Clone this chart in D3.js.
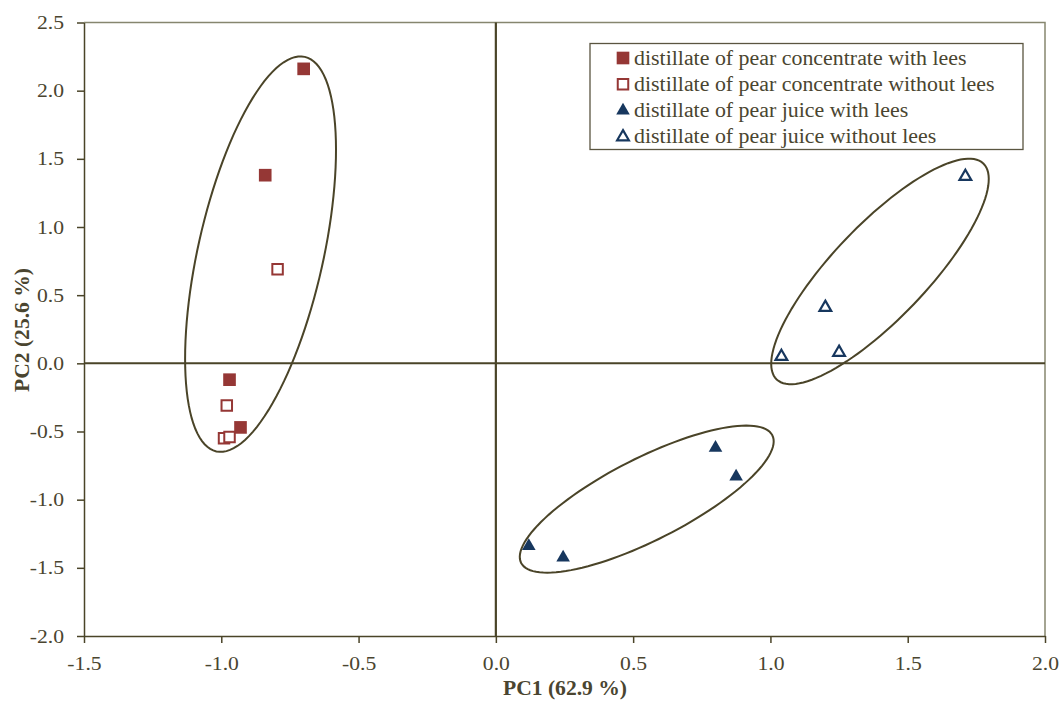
<!DOCTYPE html>
<html>
<head>
<meta charset="utf-8">
<script src="https://cdn.jsdelivr.net/npm/d3@7"></script>
<style>
  html, body { margin: 0; padding: 0; background: #fff; }
  svg { display: block; }
  text { font-family: "Liberation Serif", "Times New Roman", serif; fill: #4a4530; }
</style>
</head>
<body>
<svg id="chart" width="1061" height="702"></svg>
<script>
// ---- data ----
const xTicks = [-1.5, -1.0, -0.5, 0.0, 0.5, 1.0, 1.5, 2.0];
const yTicks = [-2.0, -1.5, -1.0, -0.5, 0.0, 0.5, 1.0, 1.5, 2.0, 2.5];
const seriesNames = [
  "distillate of pear concentrate with lees",
  "distillate of pear concentrate without lees",
  "distillate of pear juice with lees",
  "distillate of pear juice without lees"
];
const concWithLees = [[-0.70, 2.16], [-0.84, 1.38], [-0.97, -0.12], [-0.93, -0.47]];
const concWithoutLees = [[-0.795, 0.69], [-0.98, -0.31], [-0.99, -0.55], [-0.97, -0.54]];
const juiceWithLees = [[0.80, -0.62], [0.875, -0.83], [0.12, -1.34], [0.245, -1.425]];
const juiceWithoutLees = [[1.71, 1.37], [1.20, 0.41], [1.04, 0.05], [1.25, 0.08]];
// ellipses: center and two conjugate semi-axis vectors, in data units
const ellipseCenters = [[-0.857, 0.801], [0.5495, -0.996], [1.399, 0.674]];
const ellipseMajor = [[0.161, 1.447], [0.4574, 0.468], [0.3763, 0.792]];
const ellipseMinor = [[0.2227, -0.1004], [0.0678, -0.2684], [0.1239, -0.2384]];

// ---- chart ----
const svg = d3.select("#chart");
const axisColor = "#4a4428";
const red = "#953735", navy = "#17375e";
const stretch = 1.14;

const x = d3.scaleLinear().domain([-1.5, 2.0]).range([84, 1045]);
const y = d3.scaleLinear().domain([-2.0, 2.5]).range([636, 22.5]);
const fmt = d => d.toFixed(1);

// plot area border (top and right)
svg.append("path")
  .attr("d", `M${x(-1.5)},${y(2.5)}H${x(2.0)}V${y(-2.0)}`)
  .attr("fill", "none").attr("stroke", "#86866f").attr("stroke-width", 1.5);

// left axis
const gy = svg.append("g").attr("transform", `translate(${x(-1.5)},0)`)
  .call(d3.axisLeft(y).tickValues(yTicks).tickFormat(fmt).tickSize(7).tickSizeOuter(0).tickPadding(13));
// bottom axis
const gx = svg.append("g").attr("transform", `translate(0,${y(-2.0)})`)
  .call(d3.axisBottom(x).tickValues(xTicks).tickFormat(fmt).tickSize(7).tickSizeOuter(0).tickPadding(14));
[gx, gy].forEach(g => {
  g.select(".domain").attr("stroke", axisColor).attr("stroke-width", 1.5);
  g.selectAll(".tick line").attr("stroke", axisColor).attr("stroke-width", 1.5);
  g.selectAll(".tick text").attr("font-size", 19).attr("fill", "#4a4530")
    .attr("font-family", "Liberation Serif, serif")
    .each(function() {
      const t = d3.select(this);
      const tx = +t.attr("x") || 0;
      t.attr("x", 0).attr("transform", `translate(${tx},0) scale(${stretch},1)`);
    });
});

// zero lines
svg.append("line").attr("x1", x(-1.5)).attr("x2", x(2.0)).attr("y1", y(0)).attr("y2", y(0))
  .attr("stroke", axisColor).attr("stroke-width", 2);
svg.append("line").attr("x1", x(0)).attr("x2", x(0)).attr("y1", y(2.5)).attr("y2", y(-2.0))
  .attr("stroke", axisColor).attr("stroke-width", 2.2);

// axis titles
svg.append("text").attr("transform", `translate(565,695) scale(1.08,1)`).attr("text-anchor", "middle")
  .attr("font-size", 20).attr("font-weight", "bold").text("PC1 (62.9 %)");
svg.append("text").attr("transform", "translate(29,330) rotate(-90) scale(1.08,1)").attr("text-anchor", "middle")
  .attr("font-size", 20).attr("font-weight", "bold").text("PC2 (25.6 %)");

// ellipses
const line = d3.line();
ellipseCenters.forEach((c, i) => {
  const u = ellipseMajor[i], v = ellipseMinor[i];
  const pts = d3.range(0, 361, 3).map(a => {
    const t = a * Math.PI / 180;
    return [x(c[0] + u[0] * Math.cos(t) + v[0] * Math.sin(t)),
            y(c[1] + u[1] * Math.cos(t) + v[1] * Math.sin(t))];
  });
  svg.append("path").attr("d", line(pts) + "Z").attr("fill", "none")
    .attr("stroke", axisColor).attr("stroke-width", 2);
});

// markers
const sq = d3.symbol().type(d3.symbolSquare);
const tri = d3.symbol().type(d3.symbolTriangle);
const styles = [
  { data: concWithLees, path: sq.size(160)(), fill: red, stroke: "none", sw: 0 },
  { data: concWithoutLees, path: sq.size(110)(), fill: "#fff", stroke: red, sw: 2 },
  { data: juiceWithLees, path: tri.size(80)(), fill: navy, stroke: "none", sw: 0 },
  { data: juiceWithoutLees, path: tri.size(60)(), fill: "#fff", stroke: navy, sw: 2.2 }
];
styles.forEach(s => {
  svg.append("g").selectAll("path").data(s.data).join("path")
    .attr("d", s.path)
    .attr("transform", d => `translate(${x(d[0])},${y(d[1])})`)
    .attr("fill", s.fill).attr("stroke", s.stroke).attr("stroke-width", s.sw);
});

// legend
const lg = svg.append("g");
lg.append("rect").attr("x", 590).attr("y", 43.5).attr("width", 433).attr("height", 106)
  .attr("fill", "#fff").attr("stroke", "#5a5540").attr("stroke-width", 1.3);
seriesNames.forEach((name, i) => {
  const cy = 58 + i * 26.3;
  const s = styles[i];
  lg.append("path").attr("d", s.path).attr("transform", `translate(623,${cy})`)
    .attr("fill", s.fill).attr("stroke", s.stroke).attr("stroke-width", s.sw);
  lg.append("text").attr("transform", `translate(634,${cy + 6.5}) scale(1.095,1)`)
    .attr("font-size", 20).text(name);
});
</script>
</body>
</html>
